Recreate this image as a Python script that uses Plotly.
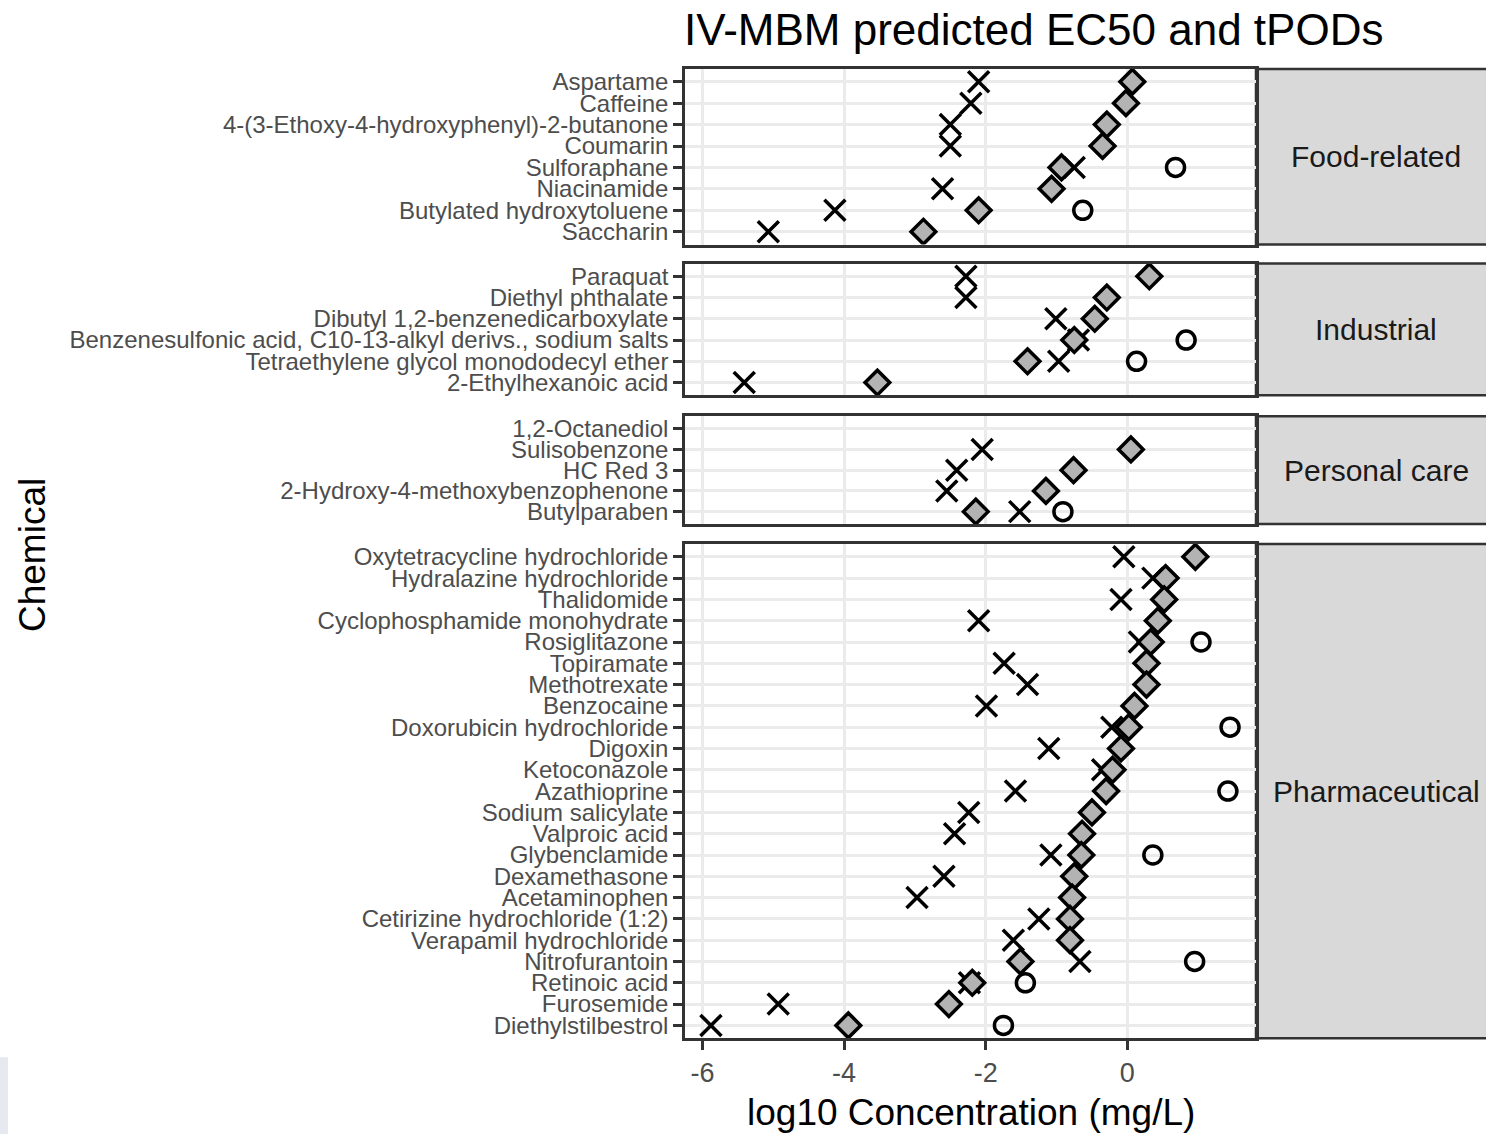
import numpy as np
import plotly.graph_objects as go

nan = np.nan

# ---- data (log10 concentration, mg/L) ----
food = ["Aspartame", "Caffeine", "4-(3-Ethoxy-4-hydroxyphenyl)-2-butanone", "Coumarin",
        "Sulforaphane", "Niacinamide", "Butylated hydroxytoluene", "Saccharin"]
food_tpod_x = [-2.10, -2.21, -2.50, -2.50, -0.75, -2.61, -4.13, -5.07]
food_ec50 = [0.07, -0.02, -0.29, -0.35, -0.93, -1.07, -2.10, -2.88]
food_tpod_o = [nan, nan, nan, nan, 0.68, nan, -0.63, nan]

industrial = ["Paraquat", "Diethyl phthalate", "Dibutyl 1,2-benzenedicarboxylate",
              "Benzenesulfonic acid, C10-13-alkyl derivs., sodium salts",
              "Tetraethylene glycol monododecyl ether", "2-Ethylhexanoic acid"]
ind_tpod_x = [-2.28, -2.28, -1.01, -0.69, -0.97, -5.41]
ind_ec50 = [0.31, -0.29, -0.46, -0.75, -1.41, -3.53]
ind_tpod_o = [nan, nan, nan, 0.83, 0.13, nan]

personal = ["1,2-Octanediol", "Sulisobenzone", "HC Red 3",
            "2-Hydroxy-4-methoxybenzophenone", "Butylparaben"]
pc_tpod_x = [nan, -2.05, -2.41, -2.55, -1.52]
pc_ec50 = [nan, 0.05, -0.76, -1.15, -2.14]
pc_tpod_o = [nan, nan, nan, nan, -0.91]

pharma = ["Oxytetracycline hydrochloride", "Hydralazine hydrochloride", "Thalidomide",
          "Cyclophosphamide monohydrate", "Rosiglitazone", "Topiramate", "Methotrexate",
          "Benzocaine", "Doxorubicin hydrochloride", "Digoxin", "Ketoconazole",
          "Azathioprine", "Sodium salicylate", "Valproic acid", "Glybenclamide",
          "Dexamethasone", "Acetaminophen", "Cetirizine hydrochloride (1:2)",
          "Verapamil hydrochloride", "Nitrofurantoin", "Retinoic acid", "Furosemide",
          "Diethylstilbestrol"]
ph_tpod_x = [-0.05, 0.36, -0.09, -2.10, 0.17, -1.74, -1.41, -1.99, -0.22, -1.11, -0.35,
             -1.58, -2.24, -2.44, -1.08, -2.59, -2.97, -1.25, -1.61, -0.67, -2.23, -4.93, -5.88]
ph_ec50 = [0.96, 0.54, 0.52, 0.43, 0.33, 0.27, 0.27, 0.10, 0.02, -0.09, -0.21, -0.30,
           -0.50, -0.64, -0.65, -0.75, -0.78, -0.81, -0.81, -1.51, -2.19, -2.52, -3.94]
ph_tpod_o = [nan, nan, nan, nan, 1.04, nan, nan, nan, 1.45, nan, nan, 1.42, nan, nan,
             0.36, nan, nan, nan, nan, 0.95, -1.44, nan, -1.75]

x_ticks = [-6, -4, -2, 0]
x_tick_text = ["-6", "-4", "-2", "0"]

panels = [
    ("Food-related", food, food_tpod_x, food_ec50, food_tpod_o, (68, 244)),
    ("Industrial", industrial, ind_tpod_x, ind_ec50, ind_tpod_o, (263, 395)),
    ("Personal care", personal, pc_tpod_x, pc_ec50, pc_tpod_o, (416, 524)),
    ("Pharmaceutical", pharma, ph_tpod_x, ph_ec50, ph_tpod_o, (544, 1039)),
]

# ---- page geometry (pixels) ----
W, H = 1486, 1135
px_left, px_right = 685, 1256
strip_right = 1496


def fx(px):
    return px / W


def fy(py):
    return 1 - py / H


allvals = np.array([v for p in panels for arr in p[2:5] for v in arr], dtype=float)
lo, hi = np.nanmin(allvals), np.nanmax(allvals)
pad = 0.05 * (hi - lo)
xrange = [lo - pad, hi + pad]

FONT = "Liberation Sans, Arial, sans-serif"
BORDER = "#333333"
GRID = "#ebebeb"

fig = go.Figure()
layout = dict(
    width=W, height=H, margin=dict(l=0, r=0, t=0, b=0),
    paper_bgcolor="white", plot_bgcolor="white", showlegend=False,
    font=dict(family=FONT),
)
shapes, annotations = [], []

for i, (label, cats, tx, ec, to, (top, bot)) in enumerate(panels):
    k = "" if i == 0 else str(i + 1)
    xa, ya = "x" + k, "y" + k
    n = len(cats)
    last = i == len(panels) - 1

    fig.add_trace(go.Scatter(
        x=tx, y=cats, xaxis=xa, yaxis=ya, mode="markers", name="tPOD (x)",
        marker=dict(symbol="x-thin", size=21, color="black",
                    line=dict(color="black", width=3.5)),
    ))
    fig.add_trace(go.Scatter(
        x=ec, y=cats, xaxis=xa, yaxis=ya, mode="markers", name="EC50",
        marker=dict(symbol="diamond", size=19, color="#b3b3b3",
                    line=dict(color="black", width=3.5)),
    ))
    fig.add_trace(go.Scatter(
        x=to, y=cats, xaxis=xa, yaxis=ya, mode="markers", name="tPOD (o)",
        marker=dict(symbol="circle-open", size=18, color="black",
                    line=dict(color="black", width=3.5)),
    ))

    layout["xaxis" + k] = dict(
        domain=[fx(px_left), fx(px_right)], anchor=ya, range=xrange,
        tickmode="array", tickvals=x_ticks, ticktext=x_tick_text, showticklabels=last,
        ticks="outside" if last else "", ticklen=9, tickwidth=2.5, tickcolor=BORDER,
        tickfont=dict(size=27, color="#4d4d4d"),
        showgrid=True, gridcolor=GRID, gridwidth=2.5, zeroline=False,
        showline=True, mirror=True, linecolor=BORDER, linewidth=2.5,
    )
    layout["yaxis" + k] = dict(
        domain=[fy(bot), fy(top)], anchor=xa, type="category",
        categoryorder="array", categoryarray=cats,
        tickmode="array", tickvals=cats, ticktext=cats,
        range=[n - 1 + 0.6, -0.6],
        ticks="outside", ticklen=9, tickwidth=2.5, tickcolor=BORDER,
        tickfont=dict(size=24, color="#4d4d4d"),
        showgrid=True, gridcolor=GRID, gridwidth=2.5, zeroline=False,
        showline=True, mirror=True, linecolor=BORDER, linewidth=2.5,
    )

    # facet strip on the right
    shapes.append(dict(type="rect", xref="paper", yref="paper",
                       x0=fx(px_right), x1=fx(strip_right), y0=fy(bot), y1=fy(top),
                       fillcolor="#d9d9d9", line=dict(color=BORDER, width=2.5), layer="below"))
    annotations.append(dict(text=label, xref="paper", yref="paper",
                            x=fx((px_right + strip_right) / 2), y=fy((top + bot) / 2),
                            xanchor="center", yanchor="middle", showarrow=False,
                            font=dict(size=30, color="#1a1a1a")))

# faint bar at the lower-left edge of the page
shapes.append(dict(type="rect", xref="paper", yref="paper",
                   x0=0, x1=fx(8), y0=0, y1=fy(1058),
                   fillcolor="#e6e9f0", line=dict(width=0)))

annotations.append(dict(text="IV-MBM predicted EC50 and tPODs", xref="paper", yref="paper",
                        x=fx(682), y=fy(29), xanchor="left", yanchor="middle",
                        showarrow=False, font=dict(size=44, color="black")))
annotations.append(dict(text="log10 Concentration (mg/L)", xref="paper", yref="paper",
                        x=fx((px_left + px_right) / 2), y=fy(1113), xanchor="center",
                        yanchor="middle", showarrow=False, font=dict(size=37, color="black")))
annotations.append(dict(text="Chemical", xref="paper", yref="paper",
                        x=fx(32), y=fy(555), xanchor="center", yanchor="middle",
                        textangle=-90, showarrow=False, font=dict(size=37, color="black")))

layout["shapes"] = shapes
layout["annotations"] = annotations
fig.update_layout(**layout)

fig.write_html("out.html")
